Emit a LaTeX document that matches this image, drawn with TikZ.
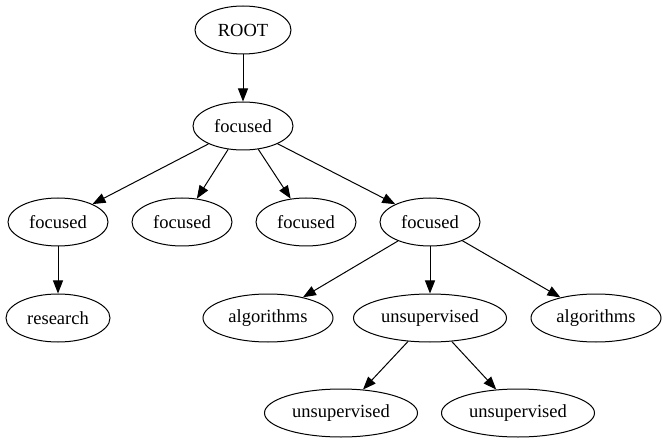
\documentclass[tikz,border=0pt]{standalone}
\usepackage{fontspec}
\setmainfont{Liberation Serif}
\usetikzlibrary{shapes.geometric,arrows.meta}
\begin{document}
\begin{tikzpicture}[x=1pt,y=-1pt,
  nd/.style={draw,ellipse,line width=1pt,inner sep=0pt,minimum height=48pt,font=\fontsize{18.5}{20}\selectfont},
  edge/.style={draw,line width=1pt,-{Triangle[length=13pt,width=10pt]}}]
\useasboundingbox (0,0) rectangle (663,443);
\node[nd,minimum width=96pt] (root) at (243,30) {ROOT};
\node[nd,minimum width=100pt] (f1) at (243,126) {focused};
\node[nd,minimum width=100pt] (fa) at (58,222) {focused};
\node[nd,minimum width=100pt] (fb) at (182,222) {focused};
\node[nd,minimum width=100pt] (fc) at (306,222) {focused};
\node[nd,minimum width=100pt] (fd) at (430,222) {focused};
\node[nd,minimum width=104pt] (res) at (58,318) {research};
\node[nd,minimum width=130pt] (alg1) at (268,318) {algorithms};
\node[nd,minimum width=153pt] (un1) at (430,318) {unsupervised};
\node[nd,minimum width=130pt] (alg2) at (596,318) {algorithms};
\node[nd,minimum width=153pt] (un2) at (341,413) {unsupervised};
\node[nd,minimum width=153pt] (un3) at (518,413) {unsupervised};
\path[edge] (root) -- (f1);
\path[edge] (f1) -- (fa);
\path[edge] (f1) -- (fb);
\path[edge] (f1) -- (fc);
\path[edge] (f1) -- (fd);
\path[edge] (fa) -- (res);
\path[edge] (fd) -- (alg1);
\path[edge] (fd) -- (un1);
\path[edge] (fd) -- (alg2);
\path[edge] (un1) -- (un2);
\path[edge] (un1) -- (un3);
\end{tikzpicture}
\end{document}
